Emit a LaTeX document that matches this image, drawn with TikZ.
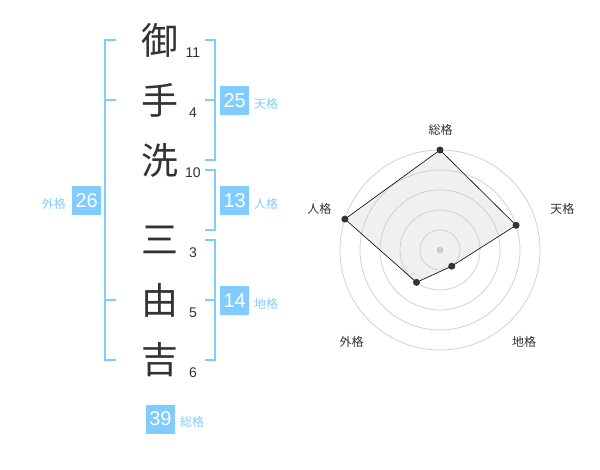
\documentclass[tikz,border=0pt]{standalone}
\usepackage{fontspec}
\usetikzlibrary{calc}
\setmainfont{Liberation Sans}
\newfontfamily\cjk{Noto Sans CJK JP}
\definecolor{sky}{HTML}{80CCFF}
\definecolor{ink}{HTML}{333333}
\definecolor{ring}{HTML}{CCCCCC}
\definecolor{area}{HTML}{F0F0F0}
\tikzset{
  kanji/.style={font=\cjk\fontsize{37}{40}\selectfont, text=ink, inner sep=0pt},
  stroke/.style={font=\fontsize{14}{16}\selectfont, text=ink, inner sep=0pt},
  brk/.style={draw=sky, line width=2pt},
  valbox/.style={fill=sky, text=white, minimum width=29pt, minimum height=29pt, inner sep=0pt, font=\fontsize{20}{22}\selectfont},
  kaku/.style={font=\cjk\fontsize{12}{14}\selectfont, text=sky, inner sep=0pt},
  axlabel/.style={font=\cjk\fontsize{12}{14}\selectfont, text=ink, inner sep=0pt},
  ringline/.style={draw=ring, line width=0.7pt},
  dot/.style={circle, fill=ink, inner sep=0pt, minimum size=7pt}
}
\begin{document}
\begin{tikzpicture}[x=1pt,y=-1pt]
\useasboundingbox (0,0) rectangle (600,470);
% characters
\node[kanji] (k1) at (160,40) {御};
\node[kanji] (k2) at (160,100) {手};
\node[kanji] (k3) at (160,160) {洗};
\node[kanji] (k4) at (160,240) {三};
\node[kanji] (k5) at (160,300) {由};
\node[kanji] (k6) at (160,360) {吉};
% stroke counts
\node[stroke] (s1) at (193,53) {11};
\node[stroke] (s2) at (193,113) {4};
\node[stroke] (s3) at (193,173) {10};
\node[stroke] (s4) at (193,253) {3};
\node[stroke] (s5) at (193,313) {5};
\node[stroke] (s6) at (193,373) {6};
% left bracket (gaikaku)
\draw[brk] (116,40) -- (105,40) -- (105,360) -- (116,360);
\draw[brk] (105,100) -- (116,100);
\draw[brk] (105,300) -- (116,300);
% right brackets
\draw[brk] (205,40) -- (215,40) -- (215,160) -- (205,160);
\draw[brk] (205,100) -- (215,100);
\draw[brk] (205,170) -- (215,170) -- (215,230) -- (205,230);
\draw[brk] (205,240) -- (215,240) -- (215,360) -- (205,360);
\draw[brk] (205,300) -- (215,300);
% boxes
\node[valbox] (ten) at (234.7,100.5) {25};
\node[kaku, anchor=west] (tenl) at (254,103.5) {天格};
\node[valbox] (jin) at (234.7,200.5) {13};
\node[kaku, anchor=west] (jinl) at (254,203.5) {人格};
\node[valbox] (chi) at (234.7,300.5) {14};
\node[kaku, anchor=west] (chil) at (254,303.5) {地格};
\node[valbox] (gai) at (86.7,200.5) {26};
\node[kaku, anchor=east] (gail) at (66,203.5) {外格};
\node[valbox] (sou) at (160.5,419) {39};
\node[kaku, anchor=west] (soul) at (180,422) {総格};
% radar
\coordinate (c) at (440,250);
\coordinate (p1) at ($(c)+(-90:100)$);
\coordinate (p2) at ($(c)+(-18:80)$);
\coordinate (p3) at ($(c)+(54:20)$);
\coordinate (p4) at ($(c)+(126:40)$);
\coordinate (p5) at ($(c)+(198:100)$);
\fill[area] (p1) -- (p2) -- (p3) -- (p4) -- (p5) -- cycle;
\foreach \r in {20,40,60,80,100} \draw[ringline] (c) circle[radius=\r];
\fill[ring] (c) circle[radius=3.5];
\draw[draw=black, line width=0.6pt] (p1) -- (p2) -- (p3) -- (p4) -- (p5) -- cycle;
\foreach \p in {p1,p2,p3,p4,p5} \node[dot] at (\p) {};
\node[axlabel] (a1) at (440.7,130) {総格};
\node[axlabel] (a2) at (562.3,209) {天格};
\node[axlabel] (a3) at (524,342.3) {地格};
\node[axlabel] (a4) at (351.7,342.3) {外格};
\node[axlabel] (a5) at (319.3,209) {人格};
\end{tikzpicture}
\end{document}
